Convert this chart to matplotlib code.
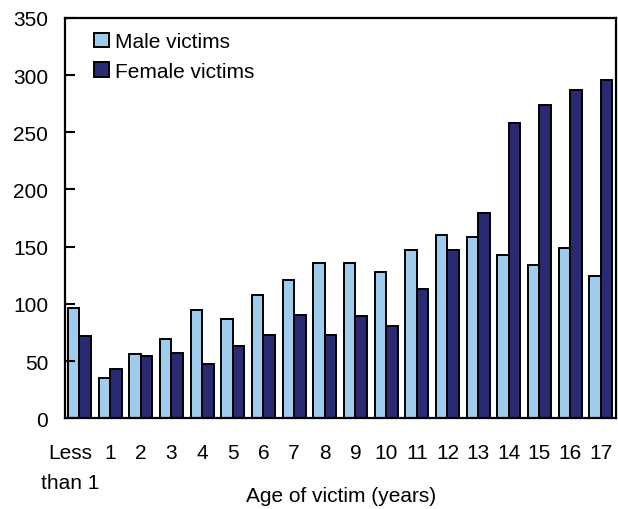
import numpy as np
import matplotlib
matplotlib.use("Agg")
import matplotlib.pyplot as plt
from matplotlib.transforms import ScaledTranslation

plt.rcParams['font.family'] = ['Liberation Sans', 'DejaVu Sans']

# Values
ages = ["Less\nthan 1", "1", "2", "3", "4", "5", "6", "7", "8", "9",
        "10", "11", "12", "13", "14", "15", "16", "17"]
male = [96, 35, 56, 69, 95, 87, 108, 121, 136, 136,
        128, 147, 160, 158, 143, 134, 149, 124]
female = [72, 43, 54, 57, 47, 63, 73, 90, 73, 89,
          81, 113, 147, 179, 258, 274, 287, 296]

male_color = "#9fcbec"
female_color = "#2a2a72"

fig = plt.figure(figsize=(6.18, 5.10), dpi=100)
ax = fig.add_axes([0.105, 0.178, 0.892, 0.785])

x = np.arange(len(ages))
w = 0.375
ax.bar(x - w / 2, male, width=w, color=male_color, edgecolor="black",
       linewidth=1.4, label="Male victims")
ax.bar(x + w / 2, female, width=w, color=female_color, edgecolor="black",
       linewidth=1.4, label="Female victims")

ax.set_xlim(-0.475, 17.5)
ax.set_ylim(0, 350)
ax.set_yticks(range(0, 351, 50))
ax.set_xticks(x)
ax.set_xticklabels(ages, linespacing=1.75)
ax.tick_params(axis="y", direction="in", length=7, width=1.5, labelsize=15, pad=12)
ax.tick_params(axis="x", length=0, labelsize=15, pad=18)
# first label sits a little left of its group
lbl = ax.get_xticklabels()[0]
lbl.set_transform(lbl.get_transform() + ScaledTranslation(-0.09, 0, fig.dpi_scale_trans))

for s in ax.spines.values():
    s.set_linewidth(1.6)

fig.text(0.552, 1 - 497 / 510, "Age of victim (years)", fontsize=15,
         ha="center", va="center")

ax.legend(loc="upper left", frameon=False, fontsize=15, handlelength=0.7,
          handleheight=0.7, handletextpad=0.3, labelspacing=0.5,
          borderaxespad=0.3, bbox_to_anchor=(0.027, 1.0))

fig.savefig("out.png", dpi=100)
